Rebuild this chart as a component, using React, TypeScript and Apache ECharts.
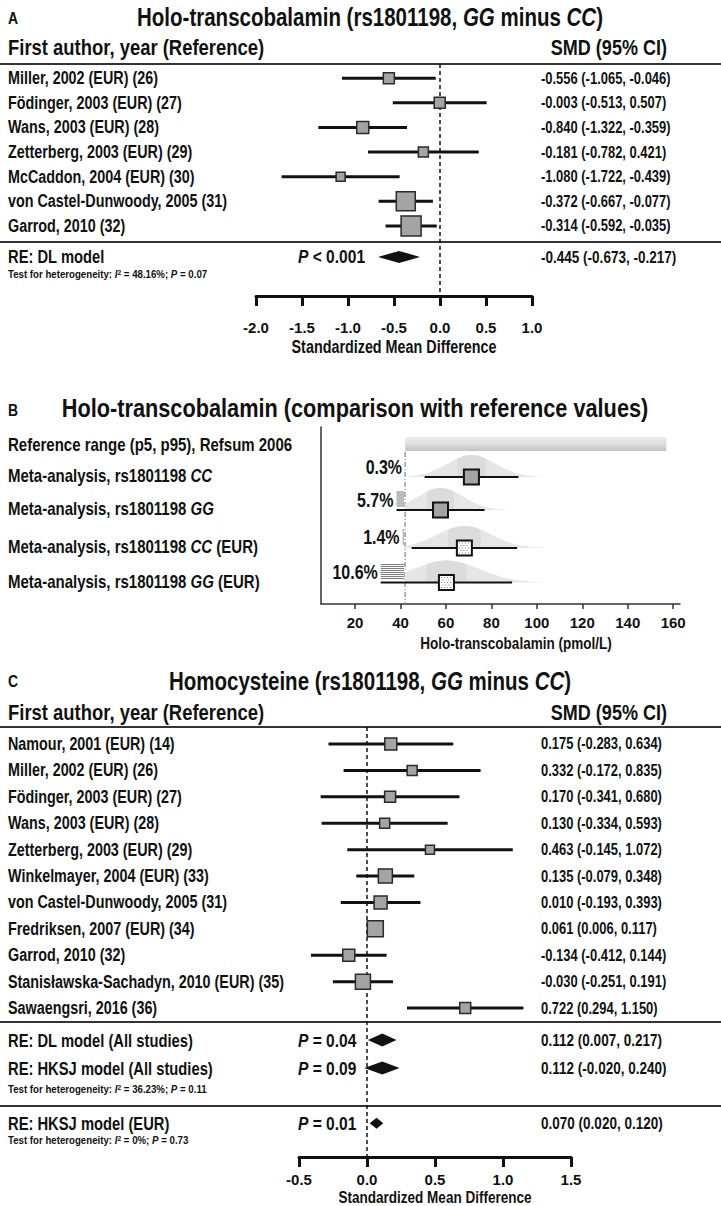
import React, { useEffect, useRef } from "react";
import * as echarts from "echarts";

const FONT = "'Liberation Sans',Arial,sans-serif";
const INK = "#111111";
const BOX = "#a4a4a4";
const NARROW = 0.82;

// ---------------- Panel A data ----------------
const studiesA = [
  "Miller, 2002 (EUR) (26)",
  "Födinger, 2003 (EUR) (27)",
  "Wans, 2003 (EUR) (28)",
  "Zetterberg, 2003 (EUR) (29)",
  "McCaddon, 2004 (EUR) (30)",
  "von Castel-Dunwoody, 2005 (31)",
  "Garrod, 2010 (32)",
];
const smdA = [-0.556, -0.003, -0.84, -0.181, -1.08, -0.372, -0.314];
const lowA = [-1.065, -0.513, -1.322, -0.782, -1.722, -0.667, -0.592];
const highA = [-0.046, 0.507, -0.359, 0.421, -0.439, -0.077, -0.035];
const weightA = [11, 11, 12, 10, 9, 19, 20];
const ciTextA = [
  "-0.556 (-1.065, -0.046)",
  "-0.003 (-0.513, 0.507)",
  "-0.840 (-1.322, -0.359)",
  "-0.181 (-0.782, 0.421)",
  "-1.080 (-1.722, -0.439)",
  "-0.372 (-0.667, -0.077)",
  "-0.314 (-0.592, -0.035)",
];
const pooledNameA = ["RE: DL model"];
const pooledEstA = [-0.445];
const pooledLowA = [-0.673];
const pooledHighA = [-0.217];
const pooledPA = ["< 0.001"];
const pooledTextA = ["-0.445 (-0.673, -0.217)"];

// ---------------- Panel B data ----------------
const genoB = ["CC", "GG", "CC", "GG"];
const eurB = [false, false, true, true];
const refRangeB = [42, 157];
const meanB = [71.2, 57.6, 68.1, 60.2];
const lowB = [50.6, 38.2, 44.9, 31.3];
const highB = [91.9, 77.0, 91.3, 89.1];
const belowPctB = ["0.3%", "5.7%", "1.4%", "10.6%"];
const hatchFromB = [42, 38.2, 40.9, 31.3];
const ticksB = [20, 40, 60, 80, 100, 120, 140, 160];

// ---------------- Panel C data ----------------
const studiesC = [
  "Namour, 2001 (EUR) (14)",
  "Miller, 2002 (EUR) (26)",
  "Födinger, 2003 (EUR) (27)",
  "Wans, 2003 (EUR) (28)",
  "Zetterberg, 2003 (EUR) (29)",
  "Winkelmayer, 2004 (EUR) (33)",
  "von Castel-Dunwoody, 2005 (31)",
  "Fredriksen, 2007 (EUR) (34)",
  "Garrod, 2010 (32)",
  "Stanisławska-Sachadyn, 2010 (EUR) (35)",
  "Sawaengsri, 2016 (36)",
];
const smdC = [0.175, 0.332, 0.17, 0.13, 0.463, 0.135, 0.1, 0.061, -0.134, -0.03, 0.722];
const lowC = [-0.283, -0.172, -0.341, -0.334, -0.145, -0.079, -0.193, 0.006, -0.412, -0.251, 0.294];
const highC = [0.634, 0.835, 0.68, 0.593, 1.072, 0.348, 0.393, 0.117, 0.144, 0.191, 1.15];
const weightC = [12, 10, 11, 10, 9, 14, 13, 16, 12, 15, 11];
const ciTextC = [
  "0.175 (-0.283, 0.634)",
  "0.332 (-0.172, 0.835)",
  "0.170 (-0.341, 0.680)",
  "0.130 (-0.334, 0.593)",
  "0.463 (-0.145, 1.072)",
  "0.135 (-0.079, 0.348)",
  "0.010 (-0.193, 0.393)",
  "0.061 (0.006, 0.117)",
  "-0.134 (-0.412, 0.144)",
  "-0.030 (-0.251, 0.191)",
  "0.722 (0.294, 1.150)",
];
const pooledNameC = ["RE: DL model (All studies)", "RE: HKSJ model (All studies)", "RE: HKSJ model (EUR)"];
const pooledEstC = [0.112, 0.112, 0.07];
const pooledLowC = [0.007, -0.02, 0.02];
const pooledHighC = [0.217, 0.24, 0.12];
const pooledPC = ["= 0.04", "= 0.09", "= 0.01"];
const pooledTextC = ["0.112 (0.007, 0.217)", "0.112 (-0.020, 0.240)", "0.070 (0.020, 0.120)"];

// ---------------- layout (row positions in row units) ----------------
const A_Y = { min: -0.58, max: 8.85, pooled: [7.26] };
const C_Y = { min: -0.644, max: 15.64, pooled: [11.21, 12.27, 14.36] };
const B_Y = { min: -0.515, max: 4.85, bar: 0, rows: [1, 2, 3.15, 4.2] };

const richSet = (size: number) => ({
  n: { fontFamily: FONT, fontSize: size, fontWeight: "bold", fill: INK, color: INK },
  i: { fontFamily: FONT, fontSize: size, fontWeight: "bold", fontStyle: "italic", fill: INK, color: INK },
  s: { fontFamily: FONT, fontSize: Math.round(size * 0.65), fontWeight: "bold", fill: INK, color: INK, verticalAlign: "top" },
});

const T = (size: number) => ({ fontFamily: FONT, fontSize: size, fontWeight: "bold", fill: INK });

// condensed text element (emulates a narrow bold sans face)
const nText = (x: number, y: number, text: string, size: number, align = "left", rich = false) => ({
  type: "text",
  x,
  y,
  scaleX: NARROW,
  scaleY: 1,
  style: rich
    ? { text, rich: richSet(size), align, verticalAlign: "middle", ...T(size) }
    : { text, align, verticalAlign: "middle", ...T(size) },
});

const hLine = (y: number) => ({
  type: "line",
  shape: { x1: 0, y1: y, x2: 721, y2: y },
  style: { stroke: "#333", lineWidth: 2 },
});

const makeStudyRender = (labels: string[], ciText: string[]) => (params: any, api: any) => {
  const est = api.value(0), lo = api.value(1), hi = api.value(2), row = api.value(3), w = api.value(4);
  const a = api.coord([lo, row]);
  const b = api.coord([hi, row]);
  const c = api.coord([est, row]);
  const y = c[1];
  return {
    type: "group",
    children: [
      { type: "line", shape: { x1: a[0], y1: y, x2: b[0], y2: y }, style: { stroke: INK, lineWidth: 3 } },
      { type: "rect", shape: { x: c[0] - w / 2, y: y - w / 2, width: w, height: w }, style: { fill: BOX, stroke: "#2a2a2a", lineWidth: 1.5 } },
      nText(8, y, labels[params.dataIndex], 17.5),
      nText(541, y, ciText[params.dataIndex], 15.8),
    ],
  };
};

const makePooledRender = (names: string[], pTexts: string[], ciTexts: string[], halfH: number[]) => (params: any, api: any) => {
  const i = params.dataIndex;
  const est = api.value(0), lo = api.value(1), hi = api.value(2), row = api.value(3);
  const a = api.coord([lo, row]);
  const b = api.coord([hi, row]);
  const c = api.coord([est, row]);
  const y = c[1];
  const h = halfH[i];
  return {
    type: "group",
    children: [
      { type: "polygon", shape: { points: [[a[0], y], [c[0], y - h], [b[0], y], [c[0], y + h]] }, style: { fill: INK } },
      nText(8, y, names[i], 18),
      nText(298, y, "{i|P}{n| " + pTexts[i] + "}", 19, "left", true),
      nText(541, y, ciTexts[i], 16.5),
    ],
  };
};

const renderRefBar = (params: any, api: any) => {
  const lo = api.value(0), hi = api.value(1), row = api.value(2);
  const a = api.coord([lo, row]);
  const b = api.coord([hi, row]);
  const bottom = api.coord([lo, B_Y.max])[1];
  return {
    type: "group",
    children: [
      { type: "line", shape: { x1: a[0], y1: a[1] + 8, x2: a[0], y2: bottom }, style: { stroke: "#8c8c8c", lineWidth: 1.3, lineDash: [5, 2, 1, 2] } },
      {
        type: "rect",
        shape: { x: a[0], y: a[1] - 7, width: b[0] - a[0], height: 14 },
        style: {
          fill: new echarts.graphic.LinearGradient(0, 0, 0, 1, [
            { offset: 0, color: "#eeeeee" },
            { offset: 0.6, color: "#dadada" },
            { offset: 1, color: "#c2c2c2" },
          ]),
        },
      },
      nText(8, a[1] + 1, "Reference range (p5, p95), Refsum 2006", 18.3),
    ],
  };
};

const renderDist = (params: any, api: any) => {
  const i = params.dataIndex;
  const mean = api.value(0), lo = api.value(1), hi = api.value(2), row = api.value(3), from = api.value(4);
  const sd = (hi - lo) / 3.92;
  const p5 = refRangeB[0];
  const c = api.coord([mean, row]);
  const y0 = c[1];
  const H = 22;
  const bell = (x0: number, x1: number) => {
    const pts: number[][] = [[api.coord([x0, row])[0], y0]];
    const N = 60;
    for (let k = 0; k <= N; k++) {
      const x = x0 + ((x1 - x0) * k) / N;
      const z = (x - mean) / sd;
      pts.push([api.coord([x, row])[0], y0 - H * Math.exp((-z * z) / 2)]);
    }
    pts.push([api.coord([x1, row])[0], y0]);
    return pts;
  };
  const children: any[] = [];
  children.push({ type: "polygon", shape: { points: bell(Math.max(mean - 3 * sd, p5), mean + 3 * sd) }, style: { fill: "#e6e6e6" } });
  children.push({ type: "polygon", shape: { points: bell(Math.max(mean - 0.6 * sd, p5), mean + 0.6 * sd) }, style: { fill: "#dcdcdc" } });
  const pxP5 = api.coord([p5, row])[0];
  const pxFrom = api.coord([from, row])[0];
  if (pxP5 - pxFrom > 0.8) {
    for (let yy = y0 - 18; yy <= y0 - 3; yy += 2) {
      children.push({ type: "line", shape: { x1: pxFrom, y1: yy, x2: pxP5 - 1, y2: yy }, style: { stroke: "#7a7a7a", lineWidth: 1 } });
    }
  }
  const a = api.coord([lo, row]);
  const b = api.coord([hi, row]);
  children.push({ type: "line", shape: { x1: a[0], y1: y0, x2: b[0], y2: y0 }, style: { stroke: INK, lineWidth: 2 } });
  const s = 15;
  children.push({ type: "rect", shape: { x: c[0] - s / 2, y: y0 - s / 2, width: s, height: s }, style: { fill: eurB[i] ? "#ffffff" : BOX, stroke: INK, lineWidth: 2 } });
  if (eurB[i]) {
    let r = 0;
    for (let dy = -5; dy <= 5; dy += 2.5) {
      for (let dx = -5 + (r % 2) * 1.5; dx <= 5; dx += 3) {
        children.push({ type: "rect", shape: { x: c[0] + dx - 0.5, y: y0 + dy - 0.5, width: 1, height: 1 }, style: { fill: "#777" } });
      }
      r++;
    }
  }
  const labelX = Math.min(pxFrom, pxP5) - 3;
  children.push(nText(labelX, y0 - 10, belowPctB[i], 19.5, "right"));
  const lbl = "{n|Meta-analysis, rs1801198 }{i|" + genoB[i] + "}" + (eurB[i] ? "{n| (EUR)}" : "");
  children.push(nText(8, y0 - 1, lbl, 18.3, "left", true));
  return { type: "group", children };
};

const smdAxis = (gridIndex: number, min: number, max: number, margin: number) => ({
  type: "value",
  gridIndex,
  min,
  max,
  interval: 0.5,
  axisLine: { show: true, onZero: false, lineStyle: { color: INK, width: 3 } },
  axisTick: { show: true, inside: false, length: 10, lineStyle: { color: INK, width: 3 } },
  axisLabel: { show: true, margin, formatter: (v: number) => v.toFixed(1), fontFamily: FONT, fontSize: 15, fontWeight: "bold", color: INK },
  splitLine: { show: false },
});

const hiddenY = (gridIndex: number, min: number, max: number) => ({
  type: "value",
  gridIndex,
  min,
  max,
  inverse: true,
  show: false,
});

export default function App() {
  const ref = useRef<HTMLDivElement>(null);
  useEffect(() => {
    if (!ref.current) return;
    const chart = echarts.init(ref.current, null, { renderer: "svg" });

    const dataA = studiesA.map((_, i) => [smdA[i], lowA[i], highA[i], i, weightA[i]]);
    const dataC = studiesC.map((_, i) => [smdC[i], lowC[i], highC[i], i, weightC[i]]);
    const pooledA = pooledEstA.map((v, i) => [v, pooledLowA[i], pooledHighA[i], A_Y.pooled[i]]);
    const pooledC = pooledEstC.map((v, i) => [v, pooledLowC[i], pooledHighC[i], C_Y.pooled[i]]);
    const distB = meanB.map((m, i) => [m, lowB[i], highB[i], B_Y.rows[i], hatchFromB[i]]);

    const option: any = {
      animation: false,
      backgroundColor: "#ffffff",
      grid: [
        { left: 256, top: 64, width: 276, height: 232, outerBoundsMode: "none", containLabel: false },
        { left: 321, top: 427, width: 359, height: 177, outerBoundsMode: "none", containLabel: false },
        { left: 299, top: 727, width: 272, height: 430, outerBoundsMode: "none", containLabel: false },
      ],
      xAxis: [
        smdAxis(0, -2, 1, 24),
        {
          type: "value",
          gridIndex: 1,
          min: 5,
          max: 163,
          axisLine: { show: true, onZero: false, lineStyle: { color: "#333", width: 1.5 } },
          axisTick: { show: true, inside: false, length: 5, customValues: ticksB, lineStyle: { color: "#333", width: 1.5 } },
          axisLabel: { show: true, margin: 11, customValues: ticksB, fontFamily: FONT, fontSize: 15, fontWeight: "bold", color: INK },
          splitLine: { show: false },
        },
        smdAxis(2, -0.5, 1.5, 15),
      ],
      yAxis: [
        hiddenY(0, A_Y.min, A_Y.max),
        {
          type: "value",
          gridIndex: 1,
          min: B_Y.min,
          max: B_Y.max,
          inverse: true,
          axisLine: { show: true, onZero: false, lineStyle: { color: "#333", width: 1.5 } },
          axisTick: { show: false },
          axisLabel: { show: false },
          splitLine: { show: false },
        },
        hiddenY(2, C_Y.min, C_Y.max),
      ],
      series: [
        {
          type: "line",
          xAxisIndex: 0,
          yAxisIndex: 0,
          data: [[0, A_Y.min], [0, A_Y.max]],
          symbol: "none",
          z: 1,
          lineStyle: { color: INK, width: 1.5, type: [4, 3] },
        },
        { type: "custom", xAxisIndex: 0, yAxisIndex: 0, data: dataA, renderItem: makeStudyRender(studiesA, ciTextA), clip: false, z: 3 },
        { type: "custom", xAxisIndex: 0, yAxisIndex: 0, data: pooledA, renderItem: makePooledRender(pooledNameA, pooledPA, pooledTextA, [6]), clip: false, z: 3 },
        { type: "custom", xAxisIndex: 1, yAxisIndex: 1, data: [[refRangeB[0], refRangeB[1], B_Y.bar]], renderItem: renderRefBar, clip: false, z: 2 },
        { type: "custom", xAxisIndex: 1, yAxisIndex: 1, data: distB, renderItem: renderDist, clip: false, z: 3 },
        {
          type: "line",
          xAxisIndex: 2,
          yAxisIndex: 2,
          data: [[0, C_Y.min], [0, C_Y.max]],
          symbol: "none",
          z: 1,
          lineStyle: { color: INK, width: 1.5, type: [4, 3] },
        },
        { type: "custom", xAxisIndex: 2, yAxisIndex: 2, data: dataC, renderItem: makeStudyRender(studiesC, ciTextC), clip: false, z: 3 },
        { type: "custom", xAxisIndex: 2, yAxisIndex: 2, data: pooledC, renderItem: makePooledRender(pooledNameC, pooledPC, pooledTextC, [6.5, 6.5, 5.5]), clip: false, z: 3 },
      ],
      graphic: [
        // Panel A
        nText(8, 18, "A", 17),
        nText(370, 17, "{n|Holo-transcobalamin (rs1801198, }{i|GG}{n| minus }{i|CC}{n|)}", 25, "center", true),
        nText(8, 47, "First author, year (Reference)", 22.5),
        nText(667, 47, "SMD (95% CI)", 22, "right"),
        hLine(64),
        hLine(242),
        nText(8, 274, "{n|Test for heterogeneity: }{i|I}{s|2}{n| = 48.16%; }{i|P}{n| = 0.07}", 11.8, "left", true),
        nText(394, 347, "Standardized Mean Difference", 17.5, "center"),
        // Panel B
        nText(8, 410, "B", 17),
        nText(355, 408, "Holo-transcobalamin (comparison with reference values)", 26.5, "center"),
        nText(516, 643, "Holo-transcobalamin (pmol/L)", 16.5, "center"),
        // Panel C
        nText(8, 681, "C", 17),
        nText(370, 681, "{n|Homocysteine (rs1801198, }{i|GG}{n| minus }{i|CC}{n|)}", 25, "center", true),
        nText(8, 712, "First author, year (Reference)", 22.5),
        nText(667, 712, "SMD (95% CI)", 22, "right"),
        hLine(727),
        hLine(1022),
        hLine(1106),
        nText(8, 1089, "{n|Test for heterogeneity: }{i|I}{s|2}{n| = 36.23%; }{i|P}{n| = 0.11}", 11.8, "left", true),
        nText(8, 1140, "{n|Test for heterogeneity: }{i|I}{s|2}{n| = 0%; }{i|P}{n| = 0.73}", 11.8, "left", true),
        nText(435, 1197, "Standardized Mean Difference", 16.5, "center"),
      ],
    };
    chart.setOption(option);
    return () => chart.dispose();
  }, []);
  return (
    <div
      ref={ref}
      style={{ position: "absolute", left: 0, top: 0, width: 721, height: 1206, background: "#fff" }}
    />
  );
}
